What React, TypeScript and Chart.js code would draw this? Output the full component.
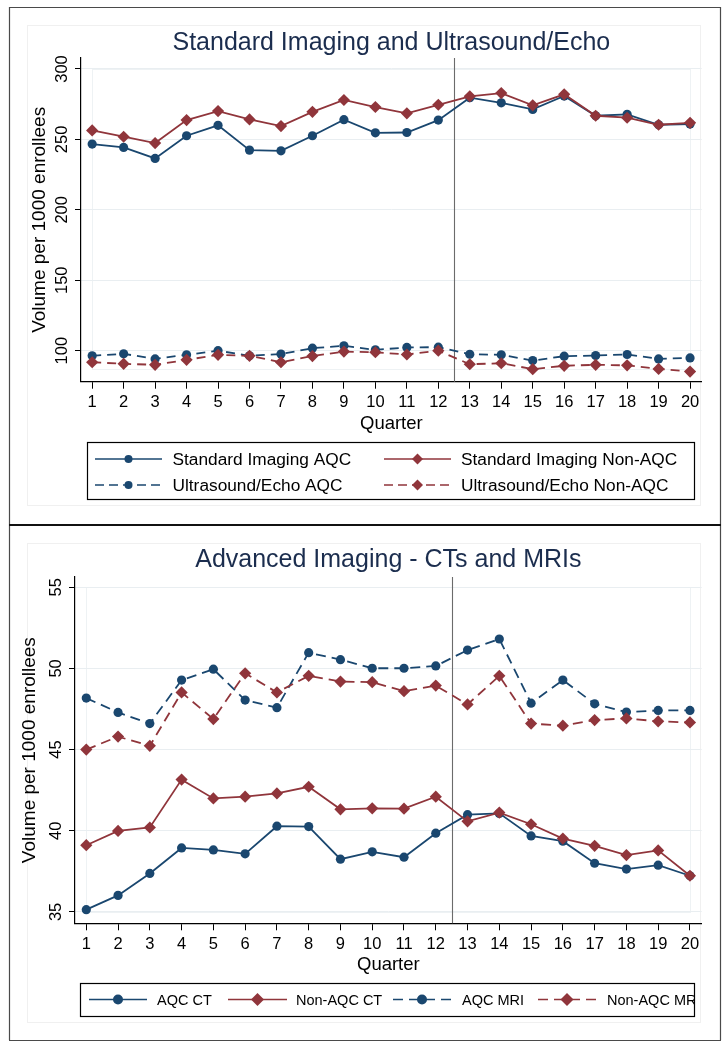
import React, { useEffect, useRef } from 'react';
import { Chart, registerables } from 'chart.js';

Chart.register(...registerables);

// ---------- data ----------
const quarters = [1, 2, 3, 4, 5, 6, 7, 8, 9, 10, 11, 12, 13, 14, 15, 16, 17, 18, 19, 20];
const policyQuarter = 12.5;

const standardAqc = [246.7, 244.3, 236.5, 252.6, 260.0, 242.4, 241.9, 252.6, 264.0, 254.7, 254.9, 263.7, 279.6, 276.0, 271.3, 280.8, 266.8, 267.8, 260.4, 260.9];
const standardNonAqc = [256.4, 251.9, 247.4, 263.7, 270.1, 264.2, 259.5, 269.6, 278.0, 273.0, 268.5, 274.6, 280.6, 282.9, 274.2, 282.0, 266.8, 265.4, 260.4, 261.8];
const ultrasoundAqc = [96.4, 97.8, 94.2, 97.1, 100.0, 96.4, 97.6, 101.8, 103.5, 100.6, 102.3, 102.5, 97.5, 97.1, 93.0, 96.1, 96.6, 97.3, 94.2, 94.9];
const ultrasoundNonAqc = [91.8, 90.7, 90.0, 93.5, 97.1, 96.4, 91.8, 96.2, 99.4, 98.9, 97.3, 100.0, 90.4, 91.1, 86.9, 89.3, 90.0, 89.6, 87.1, 85.2];

const ctAqc = [35.14, 36.02, 37.37, 38.94, 38.82, 38.58, 40.28, 40.26, 38.25, 38.70, 38.37, 39.85, 40.99, 41.07, 39.68, 39.36, 38.00, 37.64, 37.88, 37.23];
const ctNonAqc = [39.11, 39.99, 40.20, 43.15, 41.99, 42.10, 42.30, 42.71, 41.32, 41.38, 41.36, 42.10, 40.58, 41.12, 40.40, 39.52, 39.07, 38.50, 38.79, 37.23];
const mriAqc = [48.17, 47.29, 46.60, 49.28, 49.95, 48.05, 47.58, 50.97, 50.54, 50.01, 50.01, 50.15, 51.13, 51.81, 47.86, 49.28, 47.82, 47.31, 47.41, 47.41];
const mriNonAqc = [45.00, 45.80, 45.23, 48.52, 46.88, 49.70, 48.52, 49.54, 49.19, 49.15, 48.60, 48.94, 47.78, 49.54, 46.60, 46.47, 46.82, 46.92, 46.74, 46.67];

const topYTicks = [100, 150, 200, 250, 300];
const bottomYTicks = [35, 40, 45, 50, 55];

const topTitle = 'Standard Imaging and Ultrasound/Echo';
const bottomTitle = 'Advanced Imaging - CTs and MRIs';
const yAxisTitle = 'Volume per 1000 enrollees';
const xAxisTitle = 'Quarter';

const topLabels = ['Standard Imaging AQC', 'Standard Imaging Non-AQC', 'Ultrasound/Echo AQC', 'Ultrasound/Echo Non-AQC'];
const bottomLabels = ['AQC CT', 'Non-AQC CT', 'AQC MRI', 'Non-AQC MRI'];

// ---------- style ----------
const BLUE = '#1a476f';
const RED = '#90353b';
const TITLE = '#1b2d4e';
const GRID = '#e9eef1';
const FONT = "'Liberation Sans', Arial, sans-serif";
const W = 727;

type Marker = 'circle' | 'rectRot';
type Entry = { label: string; color: string; dashed: boolean; marker: Marker; x0: number; x1: number; tx: number; y: number };

const pts = (vals: number[]) => quarters.map((q, i) => ({ x: q, y: vals[i] }));

function ds(label: string, vals: number[], color: string, marker: Marker, dashed: boolean, order: number, dash: number[]) {
  return {
    label,
    data: pts(vals),
    borderColor: color,
    backgroundColor: color,
    borderWidth: 1.8,
    borderDash: dashed ? dash : [],
    pointStyle: marker,
    pointRadius: marker === 'circle' ? 4.6 : 6.1,
    pointBorderWidth: 0,
    pointBackgroundColor: color,
    tension: 0,
    order,
  };
}

function drawMarker(ctx: CanvasRenderingContext2D, kind: Marker, x: number, y: number, r: number, color: string) {
  ctx.save();
  ctx.fillStyle = color;
  ctx.beginPath();
  if (kind === 'circle') {
    ctx.arc(x, y, r, 0, Math.PI * 2);
  } else {
    ctx.moveTo(x, y - r);
    ctx.lineTo(x + r, y);
    ctx.lineTo(x, y + r);
    ctx.lineTo(x - r, y);
    ctx.closePath();
  }
  ctx.fill();
  ctx.restore();
}

function buildChart(canvas: HTMLCanvasElement, spec: any) {
  const H = spec.height;
  const area = spec.area;
  const plugin = {
    id: 'panelDecor' + spec.id,
    beforeDraw(chart: any) {
      const ctx: CanvasRenderingContext2D = chart.ctx;
      const xs = chart.scales.x;
      const ys = chart.scales.y;
      ctx.save();
      ctx.fillStyle = '#ffffff';
      ctx.fillRect(0, 0, chart.width, chart.height);
      // faint graph region
      ctx.strokeStyle = '#f0f0f0';
      ctx.lineWidth = 1;
      const g = spec.region;
      ctx.strokeRect(g.x + 0.5, g.y + 0.5, g.w, g.h);
      // faint inner plot region
      const l = xs.getPixelForValue(quarters[0]);
      const r = xs.getPixelForValue(quarters[quarters.length - 1]);
      const t = ys.getPixelForValue(spec.innerTop);
      const b = ys.getPixelForValue(spec.innerBottom);
      ctx.strokeStyle = '#eef2f4';
      ctx.strokeRect(Math.round(l) + 0.5, Math.round(t) + 0.5, Math.round(r - l), Math.round(b - t));
      // panel borders
      ctx.strokeStyle = '#4a4a4a';
      ctx.lineWidth = 1.2;
      ctx.beginPath();
      ctx.moveTo(9.5, spec.border.top);
      ctx.lineTo(9.5, spec.border.bottom);
      ctx.moveTo(720.5, spec.border.top);
      ctx.lineTo(720.5, spec.border.bottom);
      if (spec.border.drawTop) {
        ctx.moveTo(9, spec.border.top + 0.5);
        ctx.lineTo(721, spec.border.top + 0.5);
      }
      if (spec.border.drawBottom) {
        ctx.moveTo(9, spec.border.bottom + 0.5);
        ctx.lineTo(721, spec.border.bottom + 0.5);
      }
      ctx.stroke();
      if (spec.border.separator) {
        ctx.fillStyle = '#111';
        ctx.fillRect(9, spec.border.bottom - 2, 712, 2);
      }
      ctx.restore();
    },
    beforeDatasetsDraw(chart: any) {
      const ctx: CanvasRenderingContext2D = chart.ctx;
      const xs = chart.scales.x;
      const x = Math.round(xs.getPixelForValue(policyQuarter)) + 0.5;
      ctx.save();
      ctx.strokeStyle = '#6b6b6b';
      ctx.lineWidth = 1.1;
      ctx.beginPath();
      ctx.moveTo(x, chart.chartArea.top);
      ctx.lineTo(x, chart.chartArea.bottom);
      ctx.stroke();
      ctx.restore();
    },
    afterDraw(chart: any) {
      const ctx: CanvasRenderingContext2D = chart.ctx;
      const ca = chart.chartArea;
      const ys = chart.scales.y;
      ctx.save();
      // title
      ctx.fillStyle = TITLE;
      ctx.font = `${spec.titleSize}px ${FONT}`;
      ctx.textAlign = 'center';
      ctx.textBaseline = 'alphabetic';
      ctx.fillText(spec.title, (ca.left + ca.right) / 2, spec.titleBaseline);
      // y tick labels (rotated)
      ctx.fillStyle = '#000';
      ctx.font = `16.5px ${FONT}`;
      ctx.textBaseline = 'middle';
      for (const v of spec.yTicks) {
        const y = ys.getPixelForValue(v);
        ctx.save();
        ctx.translate(ca.left - 20, y);
        ctx.rotate(-Math.PI / 2);
        ctx.textAlign = 'center';
        ctx.fillText(String(v), 0, 1);
        ctx.restore();
      }
      // y axis title
      ctx.save();
      ctx.font = `19px ${FONT}`;
      ctx.translate(spec.yTitleX, (ca.top + ca.bottom) / 2);
      ctx.rotate(-Math.PI / 2);
      ctx.textAlign = 'center';
      ctx.textBaseline = 'middle';
      ctx.fillText(yAxisTitle, 0, 0);
      ctx.restore();
      // x axis title
      ctx.font = `18.5px ${FONT}`;
      ctx.textAlign = 'center';
      ctx.textBaseline = 'alphabetic';
      ctx.fillText(xAxisTitle, (ca.left + ca.right) / 2, ca.bottom + 47);
      // legend
      const lb = spec.legendBox;
      ctx.fillStyle = '#fff';
      ctx.fillRect(lb.x, lb.y, lb.w, lb.h);
      ctx.strokeStyle = '#000';
      ctx.lineWidth = 1.2;
      ctx.strokeRect(lb.x + 0.5, lb.y + 0.5, lb.w, lb.h);
      ctx.save();
      ctx.beginPath();
      ctx.rect(lb.x + 1, lb.y + 1, lb.w - 1, lb.h - 1);
      ctx.clip();
      for (const e of spec.legend as Entry[]) {
        ctx.strokeStyle = e.color;
        ctx.lineWidth = 1.7;
        ctx.setLineDash(e.dashed ? spec.legendDash : []);
        ctx.beginPath();
        ctx.moveTo(e.x0, e.y);
        ctx.lineTo(e.x1, e.y);
        ctx.stroke();
        ctx.setLineDash([]);
        drawMarker(ctx, e.marker, (e.x0 + e.x1) / 2, e.y, e.marker === 'circle' ? spec.legendCircle : spec.legendDiamond, e.color);
        ctx.fillStyle = '#000';
        ctx.font = `${spec.legendSize}px ${FONT}`;
        ctx.textAlign = 'left';
        ctx.textBaseline = 'middle';
        ctx.fillText(e.label, e.tx, e.y + 1);
      }
      ctx.restore();
      ctx.restore();
    },
  };

  return new Chart(canvas, {
    type: 'line',
    data: { datasets: spec.datasets },
    options: {
      responsive: false,
      animation: false,
      devicePixelRatio: 1,
      layout: { padding: { top: area.top, left: 0, right: W - area.right, bottom: 0 } },
      plugins: { legend: { display: false }, title: { display: false }, tooltip: { enabled: false } },
      scales: {
        x: {
          type: 'linear',
          min: 0.645,
          max: 20.37,
          afterBuildTicks: (s: any) => {
            s.ticks = quarters.map((q) => ({ value: q }));
          },
          afterFit: (s: any) => {
            s.height = H - area.bottom;
          },
          ticks: { color: '#000', font: { family: FONT, size: 16.5 }, padding: 4, autoSkip: false, maxRotation: 0, minRotation: 0 },
          grid: { display: true, drawOnChartArea: false, drawTicks: true, tickLength: 7, tickColor: '#000', tickWidth: 1 },
          border: { display: true, color: '#000', width: 1.2 },
        },
        y: {
          type: 'linear',
          min: spec.yMin,
          max: spec.yMax,
          afterBuildTicks: (s: any) => {
            s.ticks = spec.yTicks.map((v: number) => ({ value: v }));
          },
          afterFit: (s: any) => {
            s.width = area.left;
          },
          ticks: { display: false },
          grid: { display: true, color: GRID, lineWidth: 1, drawTicks: true, tickLength: 6, tickColor: '#000', tickWidth: 1 },
          border: { display: true, color: '#000', width: 1.2 },
        },
      },
    },
    plugins: [plugin],
  } as any);
}

const topSpec = {
  id: 'top',
  height: 526,
  area: { left: 81, top: 58, right: 701.7, bottom: 381.7 },
  yMin: 78,
  yMax: 307.8,
  yTicks: topYTicks,
  innerTop: 300,
  innerBottom: 87,
  title: topTitle,
  titleSize: 25,
  titleBaseline: 50,
  yTitleX: 40,
  region: { x: 27, y: 25, w: 673, h: 480 },
  border: { top: 7, bottom: 526, drawTop: true, drawBottom: false, separator: true },
  legendBox: { x: 87, y: 442, w: 607, h: 57 },
  legendSize: 17.3,
  legendCircle: 4,
  legendDiamond: 5.5,
  legendDash: [9, 5],
  legend: [
    { label: topLabels[0], color: BLUE, dashed: false, marker: 'circle', x0: 95, x1: 162, tx: 172.5, y: 459 },
    { label: topLabels[1], color: RED, dashed: false, marker: 'rectRot', x0: 384, x1: 451, tx: 461, y: 459 },
    { label: topLabels[2], color: BLUE, dashed: true, marker: 'circle', x0: 95, x1: 162, tx: 172.5, y: 485 },
    { label: topLabels[3], color: RED, dashed: true, marker: 'rectRot', x0: 384, x1: 451, tx: 461, y: 485 },
  ],
  datasets: [
    ds(topLabels[0], standardAqc, BLUE, 'circle', false, 4, [9, 6]),
    ds(topLabels[1], standardNonAqc, RED, 'rectRot', false, 3, [9, 6]),
    ds(topLabels[2], ultrasoundAqc, BLUE, 'circle', true, 2, [9, 6]),
    ds(topLabels[3], ultrasoundNonAqc, RED, 'rectRot', true, 1, [9, 6]),
  ],
};

const bottomSpec = {
  id: 'bottom',
  height: 523,
  area: { left: 75, top: 51, right: 701.7, bottom: 397.3 },
  yMin: 34.3,
  yMax: 55.63,
  yTicks: bottomYTicks,
  innerTop: 55,
  innerBottom: 35,
  title: bottomTitle,
  titleSize: 25,
  titleBaseline: 40.7,
  yTitleX: 30,
  region: { x: 27, y: 17, w: 673, h: 479 },
  border: { top: 0, bottom: 514, drawTop: false, drawBottom: true, separator: false },
  legendBox: { x: 80, y: 457, w: 614, h: 33 },
  legendSize: 14.5,
  legendCircle: 5,
  legendDiamond: 6.5,
  legendDash: [10, 6],
  legend: [
    { label: bottomLabels[0], color: BLUE, dashed: false, marker: 'circle', x0: 89, x1: 147, tx: 157, y: 473.5 },
    { label: bottomLabels[1], color: RED, dashed: false, marker: 'rectRot', x0: 228, x1: 287, tx: 296, y: 473.5 },
    { label: bottomLabels[2], color: BLUE, dashed: true, marker: 'circle', x0: 393, x1: 451, tx: 462, y: 473.5 },
    { label: bottomLabels[3], color: RED, dashed: true, marker: 'rectRot', x0: 538, x1: 596, tx: 607, y: 473.5 },
  ],
  datasets: [
    ds(bottomLabels[0], ctAqc, BLUE, 'circle', false, 4, [10, 6]),
    ds(bottomLabels[1], ctNonAqc, RED, 'rectRot', false, 3, [10, 6]),
    ds(bottomLabels[2], mriAqc, BLUE, 'circle', true, 2, [10, 6]),
    ds(bottomLabels[3], mriNonAqc, RED, 'rectRot', true, 1, [10, 6]),
  ],
};

function Panel({ spec, top }: { spec: any; top: number }) {
  const ref = useRef<HTMLCanvasElement>(null);
  useEffect(() => {
    if (!ref.current) return;
    const chart = buildChart(ref.current, spec);
    return () => chart.destroy();
  }, [spec]);
  return (
    <canvas
      ref={ref}
      width={W}
      height={spec.height}
      style={{ position: 'absolute', left: 0, top, width: W, height: spec.height, display: 'block' }}
    />
  );
}

export default function App() {
  return (
    <div style={{ position: 'absolute', left: 0, top: 0, width: W, height: 1049, background: '#fff', overflow: 'hidden' }}>
      <Panel spec={topSpec} top={0} />
      <Panel spec={bottomSpec} top={526} />
    </div>
  );
}
